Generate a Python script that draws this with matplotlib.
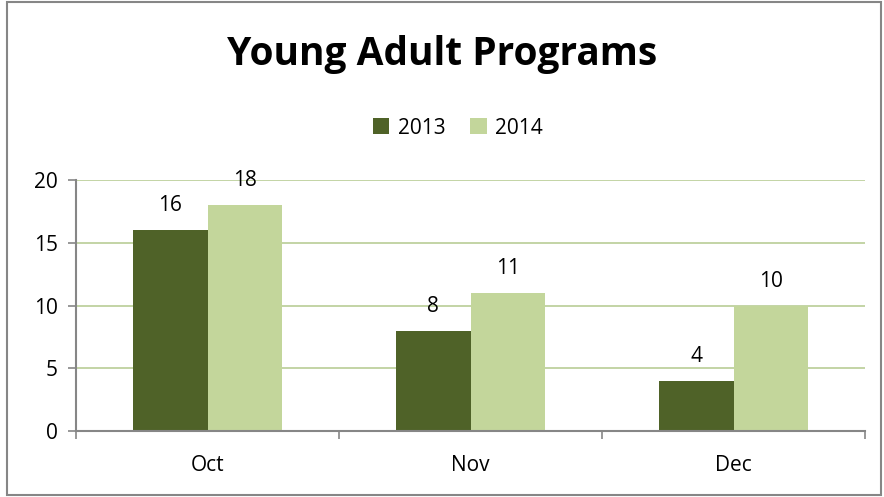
import matplotlib
matplotlib.use("Agg")
import matplotlib.pyplot as plt
from matplotlib.patches import Rectangle
import numpy as np

months = ["Oct", "Nov", "Dec"]
y2013 = [16, 8, 4]
y2014 = [18, 11, 10]
series_names = ["2013", "2014"]
colors = ["#4F6228", "#C3D69B"]

plt.rcParams['font.family'] = ['Open Sans', 'DejaVu Sans']

fig = plt.figure(figsize=(8.84, 4.97), dpi=100)
ax = fig.add_axes([76 / 884, 1 - 431 / 497, (865 - 76) / 884, (431 - 180) / 497])

x = np.arange(len(months))
w = 0.285
b1 = ax.bar(x - w / 2, y2013, w, color=colors[0], label=series_names[0])
b2 = ax.bar(x + w / 2, y2014, w, color=colors[1], label=series_names[1])
for bars, vals in ((b1, y2013), (b2, y2014)):
    for r, v in zip(bars, vals):
        ax.annotate(str(v), (r.get_x() + r.get_width() / 2, v),
                    xytext=(0, 10), textcoords="offset points",
                    ha="center", va="bottom", fontsize=15)

ax.set_xlim(-0.5, 2.5)
ax.set_ylim(0, 20)
ax.set_yticks([0, 5, 10, 15, 20])
ax.yaxis.grid(True, color="#B9CD96", linewidth=1.2)
ax.set_axisbelow(True)
ax.set_xticks([-0.5, 0.5, 1.5, 2.5])
ax.set_xticklabels([])
ax.set_xticks(x, minor=True)
ax.set_xticklabels(months, minor=True)
ax.tick_params(axis="x", which="minor", length=0, labelsize=15, pad=17)
ax.tick_params(axis="x", which="major", length=6, color="#868686", width=1.2)
ax.tick_params(axis="y", length=6, color="#868686", width=1.2, labelsize=15, pad=7)
for s in ("top", "right"):
    ax.spines[s].set_visible(False)
for s in ("left", "bottom"):
    ax.spines[s].set_color("#868686")
    ax.spines[s].set_linewidth(1.5)

fig.text(0.5, 1 - 55 / 497, "Young Adult Programs", ha="center", va="center",
         fontsize=28, fontweight="bold")
fig.legend(loc="center", bbox_to_anchor=(458 / 884, 1 - 128 / 497), ncol=2,
           frameon=False, fontsize=15, handlelength=0.8, handleheight=0.8,
           columnspacing=1.2, handletextpad=0.4)

fig.patches.append(Rectangle((7 / 884, 0.004), (881 - 7) / 884, 0.992,
                             transform=fig.transFigure, fill=False,
                             edgecolor="#868686", linewidth=1.5))

fig.savefig("out.png", dpi=100)
